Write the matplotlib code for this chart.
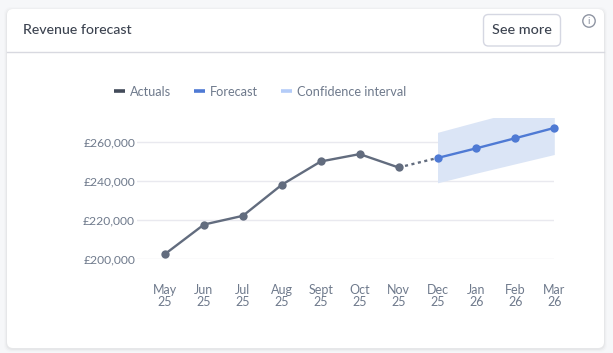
import matplotlib
matplotlib.use("Agg")
import matplotlib.pyplot as plt
from matplotlib.patches import FancyBboxPatch, Circle
from matplotlib.lines import Line2D
from matplotlib.ticker import FuncFormatter

months = ["May\n25", "Jun\n25", "Jul\n25", "Aug\n25", "Sept\n25", "Oct\n25", "Nov\n25",
          "Dec\n25", "Jan\n26", "Feb\n26", "Mar\n26"]
actual_idx = [0, 1, 2, 3, 4, 5, 6]
actuals = [202300, 217500, 222000, 238000, 250000, 253800, 246900]
bridge_idx = [6, 7]
bridge = [246900, 251800]
forecast_idx = [7, 8, 9, 10]
forecast = [251800, 256800, 262000, 267300]
ci_low = [239000, 244000, 248800, 253600]
ci_high = [265000, 270400, 275700, 281000]
yticks = [200000, 220000, 240000, 260000]

W, H = 613, 353
plt.rcParams["font.family"] = ["Lato", "DejaVu Sans"]
GREY = "#626c7e"
BLUE = "#4f7ad4"
TXT = "#6f7a8c"
DARK = "#3c4350"

fig = plt.figure(figsize=(W / 100, H / 100), dpi=100, facecolor="#f6f7f9")

# card chrome in pixel coordinates
bg = fig.add_axes([0, 0, 1, 1], zorder=0)
bg.set_xlim(0, W); bg.set_ylim(H, 0); bg.axis("off")
for off, a in [(3, .012), (2, .02), (1, .03)]:
    bg.add_patch(FancyBboxPatch((7 - off, 9 - off + 1), 597 + 2 * off, 339 + 2 * off,
                                boxstyle="round,pad=0,rounding_size=7", fc="black", ec="none", alpha=a))
bg.add_patch(FancyBboxPatch((7, 9), 597, 339, boxstyle="round,pad=0,rounding_size=6", fc="white", ec="none"))
bg.add_line(Line2D([7, 604], [51.5, 51.5], color="#d8d9e0", lw=1))
bg.text(23, 29.5, "Revenue forecast", fontsize=10.2, color=DARK, va="center", fontweight="medium")
bg.add_patch(FancyBboxPatch((483.5, 14.5), 77, 31.5, boxstyle="round,pad=0,rounding_size=5",
                            fc="white", ec="#d5d7e2", lw=1))
bg.text(522, 30, "See more", fontsize=10.4, color=DARK, va="center", ha="center", fontweight="medium")
bg.add_patch(Circle((589, 21), 6.2, fc="none", ec="#8f95a3", lw=1))
bg.text(589, 21.3, "i", fontsize=7.5, color="#8f95a3", ha="center", va="center")

# plot area: x from 136.5 to 554.3, y from 118 to 258.5
ax = fig.add_axes([136.5 / W, 1 - 258.5 / H, 417.8 / W, 140.5 / H], zorder=1)
ax.patch.set_alpha(0)
ax.set_xlim(-0.733, 10)
ax.set_ylim(200000, 272400)

ax.fill_between(forecast_idx, ci_low, ci_high, color="#dbe5f6", lw=0, zorder=2, label="Confidence interval")
ax.plot(actual_idx, actuals, color=GREY, lw=1.7, marker="o", ms=6, mew=0, zorder=3, clip_on=False, label="Actuals")
ax.plot(bridge_idx, bridge, color=GREY, lw=1.7, ls=(0, (1.3, 1.5)), zorder=3)
ax.plot(forecast_idx, forecast, color=BLUE, lw=1.7, marker="o", ms=6, mew=0, zorder=4, clip_on=False, label="Forecast")

for s in ax.spines.values():
    s.set_visible(False)
ax.set_yticks(yticks)
ax.yaxis.set_major_formatter(FuncFormatter(lambda v, _: f"£{int(v):,}"))
ax.set_xticks(range(len(months)))
ax.set_xticklabels(months, linespacing=1.0)
ax.tick_params(axis="y", length=0, pad=1, labelsize=8.7, labelcolor=TXT)
ax.tick_params(axis="x", length=0, pad=18, labelsize=9.0, labelcolor=TXT)
ax.grid(axis="y", color="#e9e9ef", lw=1, zorder=1)
ax.set_axisbelow(True)

handles = [Line2D([], [], color="#434b5a", lw=2.6, solid_capstyle="butt"),
           Line2D([], [], color=BLUE, lw=2.6, solid_capstyle="butt"),
           Line2D([], [], color="#b4ccf8", lw=2.6, solid_capstyle="butt")]
fig.legend(handles, ["Actuals", "Forecast", "Confidence interval"], frameon=False,
           loc="center left", bbox_to_anchor=(111.5 / W, 1 - 91.5 / H), ncol=3,
           fontsize=9.2, labelcolor=TXT, handlelength=0.88, handletextpad=0.4,
           columnspacing=1.75, borderpad=0.2, borderaxespad=0)

fig.savefig("out.png", dpi=100, facecolor=fig.get_facecolor())
